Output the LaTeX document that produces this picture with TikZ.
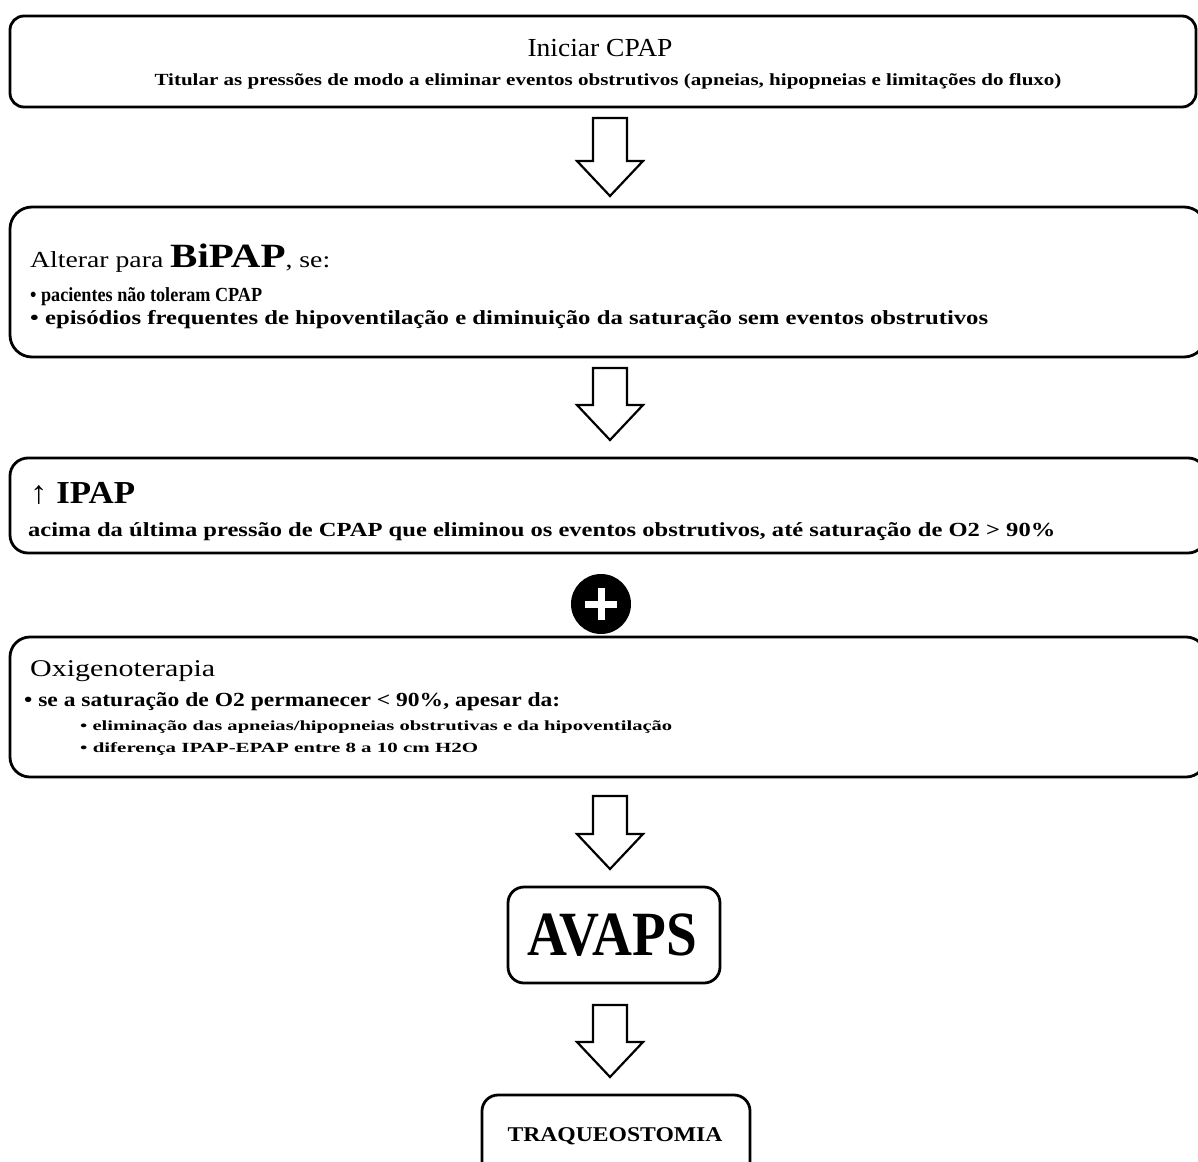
\documentclass[tikz,border=0pt]{standalone}
\usepackage{fontspec}
\setmainfont{Liberation Serif}
\usepackage{graphicx}
\newcommand\fitw[2]{\resizebox{#1}{\height}{#2}}
\newcommand\fs[1]{\fontsize{#1}{#1}\selectfont}
\begin{document}
\begin{tikzpicture}[x=1pt,y=-1pt,
  box/.style={draw, line width=2.8pt, inner sep=0pt},
  txt/.style={inner sep=0pt, anchor=base west},
  ctxt/.style={inner sep=0pt, anchor=base},
  bigarrow/.style={draw, line width=2.2pt, fill=white, line join=miter}]
\clip (0,0) rectangle (1198,1161);
\fill[white] (0,0) rectangle (1198,1161);
% boxes
\draw[box, rounded corners=14pt] (10,16) rectangle (1196,107);
\draw[box, rounded corners=22pt] (10,207) rectangle (1206,357);
\draw[box, rounded corners=18pt] (10,458) rectangle (1206,553);
\draw[box, rounded corners=20pt] (10,637) rectangle (1206,777);
\draw[box, rounded corners=16pt] (508,887) rectangle (720,983);
\draw[box, rounded corners=16pt] (482,1095) rectangle (750,1190);
% arrows
\newcommand\dnarrow[3]{%
  \draw[bigarrow] ({#1-17},#2) -- ({#1+17},#2) -- ({#1+17},{#3-35}) -- ({#1+33},{#3-35})
    -- (#1,#3) -- ({#1-33},{#3-35}) -- ({#1-17},{#3-35}) -- cycle;}
\dnarrow{610}{118}{196}
\dnarrow{610}{368}{440}
\dnarrow{610}{796}{869}
\dnarrow{610}{1005}{1077}
% plus
\fill[black] (601,604) circle (30);
\fill[white] (598,588) rectangle (605,620);
\fill[white] (585,601) rectangle (617,608);
% texts box 1
\node[ctxt] (t1) at (600,57) {\fitw{145pt}{\fs{26}Iniciar CPAP}};
\node[ctxt] (t2) at (608,86) {\fitw{907pt}{\fs{17}\bfseries Titular as pressões de modo a eliminar eventos obstrutivos (apneias, hipopneias e limitações do fluxo)}};
% box 2
\node[txt] (t3) at (30,267) {\fitw{300pt}{\fs{23}Alterar para {\fs{34}\bfseries BiPAP}, se:}};
\node[txt] (t4) at (30,301) {\fitw{232pt}{\fs{20}\bfseries • pacientes não toleram CPAP}};
\node[txt] (t5) at (30,324) {\fitw{958pt}{\fs{20}\bfseries • episódios frequentes de hipoventilação e diminuição da saturação sem eventos obstrutivos}};
% box 3
\node[txt] (t6) at (30,503) {\fitw{105pt}{\fs{32}↑ \bfseries IPAP}};
\node[txt] (t7) at (28,536) {\fitw{1027pt}{\fs{20}\bfseries acima da última pressão de CPAP que eliminou os eventos obstrutivos, até saturação de O2 > 90\%}};
% box 4
\node[txt] (t8) at (30,676) {\fitw{185pt}{\fs{24}Oxigenoterapia}};
\node[txt] (t9) at (24,706) {\fitw{536pt}{\fs{20}\bfseries • se a saturação de O2 permanecer < 90\%, apesar da:}};
\node[txt] (t10) at (80,730) {\fitw{592pt}{\fs{14}\bfseries • eliminação das apneias/hipopneias obstrutivas e da hipoventilação}};
\node[txt] (t11) at (80,752) {\fitw{398pt}{\fs{14}\bfseries • diferença IPAP-EPAP entre 8 a 10 cm H2O}};
% AVAPS
\node[ctxt] (t12) at (612,955) {\fitw{170pt}{\fs{63}\bfseries AVAPS}};
\node[ctxt] (t13) at (615,1141) {\fitw{215pt}{\fs{21}\bfseries TRAQUEOSTOMIA}};
\end{tikzpicture}
\end{document}
